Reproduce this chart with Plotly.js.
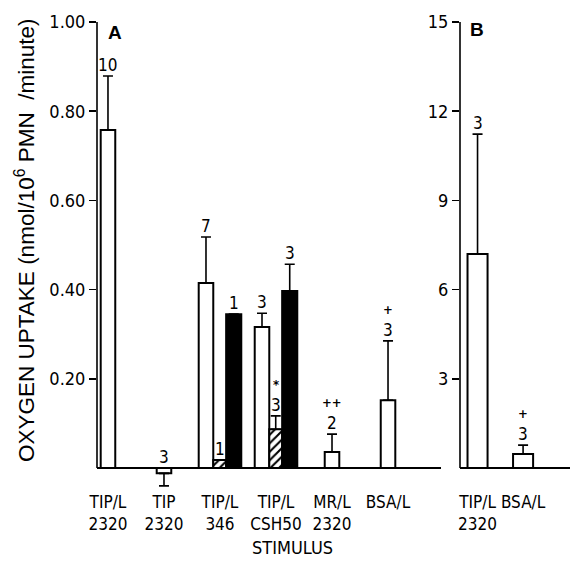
<!DOCTYPE html>
<html>
<head>
<meta charset="utf-8">
<script src="https://cdn.plot.ly/plotly-3.0.1.min.js"></script>
<style>html,body{margin:0;padding:0;background:#fff;}#chart{width:570px;height:565px;}</style>
</head>
<body>
<div id="chart"></div>
<script>
// ---------- data ----------
const categoriesA = ['TIP/L<br>2320', 'TIP<br>2320', 'TIP/L<br>346', 'TIP/L<br>CSH50', 'MR/L<br>2320', 'BSA/L'];
const whiteA      = [0.758, -0.012, 0.415, 0.316, 0.036, 0.152];
const whiteErrA   = [0.121, 0.028, 0.103, 0.031, 0.040, 0.133];
const whiteNA     = ['10', '3', '7', '3', '2', '3'];
const whiteSigA   = ['', '', '', '', '++', '+'];

const hatchedA    = [null, null, 0.018, 0.087, null, null];
const hatchedErrA = [null, null, null, 0.030, null, null];
const hatchedNA   = ['', '', '1', '3', '', ''];
const hatchedSigA = ['', '', '', '*', '', ''];

const blackA      = [null, null, 0.345, 0.397, null, null];
const blackErrA   = [null, null, null, 0.060, null, null];
const blackNA     = ['', '', '1', '3', '', ''];

const categoriesB = ['TIP/L<br>2320', 'BSA/L'];
const whiteB      = [7.2, 0.47];
const whiteErrB   = [4.03, 0.30];
const whiteNB     = ['3', '3'];
const whiteSigB   = ['', '+'];

const yTicksA = [0.2, 0.4, 0.6, 0.8, 1.0];
const yTickTextA = ['0.20', '0.40', '0.60', '0.80', '1.00'];
const yTicksB = [3, 6, 9, 12, 15];
const yTickTextB = ['3', '6', '9', '12', '15'];

// ---------- styling ----------
const W = 570, H = 565;
const FONT = '"DejaVu Sans Condensed", "Liberation Sans Narrow", "Liberation Sans", Arial, sans-serif';
const FONT_REG = '"Liberation Sans", Arial, sans-serif';
const wW = 0.26, wH = 0.23, wK = 0.27;           // bar widths (category units) panel A
const wB = 0.44;                                  // bar width panel B
const yA0 = -0.0493, yB0 = -0.74;                 // ranges extend a little below zero

function grouped(i) { return hatchedA[i] !== null || blackA[i] !== null; }
const offW = categoriesA.map((c, i) => grouped(i) ? -(wW + wH + wK) / 2 : -wW / 2);
const offH = offW.map(o => o + wW);
const offK = offH.map(o => o + wH);

function errPlus(v, e) { return v.map((val, i) => (val !== null && e[i] !== null && val >= 0) ? e[i] : null); }
function errMinus(v, e) { return v.map((val, i) => (val !== null && e[i] !== null && val < 0) ? e[i] : null); }

const outline = {color: '#000', width: 2};
const errStyle = (v, e) => ({type: 'data', symmetric: false, array: errPlus(v, e), arrayminus: errMinus(v, e),
  color: '#000', thickness: 1.6, width: 5, visible: true});

const traces = [
  {type: 'bar', x: categoriesA, y: whiteA, width: wW, offset: offW,
   marker: {color: '#fff', line: outline}, error_y: errStyle(whiteA, whiteErrA), xaxis: 'x', yaxis: 'y', hoverinfo: 'skip'},
  {type: 'bar', x: categoriesA, y: hatchedA, width: wH, offset: offH,
   marker: {color: '#fff', line: outline, pattern: {shape: '/', fgcolor: '#000', bgcolor: '#fff', size: 6, solidity: 0.35}},
   error_y: errStyle(hatchedA, hatchedErrA), xaxis: 'x', yaxis: 'y', hoverinfo: 'skip'},
  {type: 'bar', x: categoriesA, y: blackA, width: wK, offset: offK,
   marker: {color: '#000', line: outline}, error_y: errStyle(blackA, blackErrA), xaxis: 'x', yaxis: 'y', hoverinfo: 'skip'},
  {type: 'bar', x: categoriesB, y: whiteB, width: wB, offset: -wB / 2,
   marker: {color: '#fff', line: outline}, error_y: errStyle(whiteB, whiteErrB), xaxis: 'x2', yaxis: 'y2', hoverinfo: 'skip'}
];

// count / significance labels above bars
const annotations = [];
function label(xref, yref, idx, off, w, val, err, n, sig) {
  if (val === null || !n) return;
  const top = val < 0 ? 0 : val + (err || 0);
  const xc = idx + off + w / 2;
  annotations.push({xref: xref, yref: yref, x: xc, y: top, text: n, showarrow: false, borderpad: 0,
    xanchor: 'center', yanchor: 'bottom', yshift: 0, font: {family: FONT, size: 17, color: '#000'}});
  if (sig) {
    annotations.push({xref: xref, yref: yref, x: xc, y: top, text: '<b>' + sig + '</b>', showarrow: false, borderpad: 0,
      xanchor: 'center', yanchor: 'bottom', yshift: 23, font: {family: FONT, size: 13, color: '#000'}});
  }
}
categoriesA.forEach((c, i) => {
  label('x', 'y', i, offW[i], wW, whiteA[i], whiteErrA[i], whiteNA[i], whiteSigA[i]);
  label('x', 'y', i, offH[i], wH, hatchedA[i], hatchedErrA[i], hatchedNA[i], hatchedSigA[i]);
  label('x', 'y', i, offK[i], wK, blackA[i], blackErrA[i], blackNA[i], '');
});
categoriesB.forEach((c, i) => {
  label('x2', 'y2', i, -wB / 2, wB, whiteB[i], whiteErrB[i], whiteNB[i], whiteSigB[i]);
});

// panel letters, axis titles
const centered = {showarrow: false, xanchor: 'center', yanchor: 'middle', xref: 'paper', yref: 'paper'};
annotations.push(Object.assign({}, centered, {x: 115 / W, y: 1 - 32 / H, text: '<b>A</b>',
  font: {family: FONT_REG, size: 19, color: '#000'}}));
annotations.push(Object.assign({}, centered, {x: 477 / W, y: 1 - 29 / H, text: '<b>B</b>',
  font: {family: FONT_REG, size: 19, color: '#000'}}));
annotations.push(Object.assign({}, centered, {x: 292 / W, y: 1 - 547 / H, text: 'STIMULUS',
  font: {family: FONT, size: 18, color: '#000'}}));
annotations.push(Object.assign({}, centered, {x: 25 / W, y: 1 - 241 / H, text: 'OXYGEN UPTAKE (nmol/10<sup>6</sup> PMN  /minute)',
  textangle: -90, font: {family: FONT_REG, size: 22.5, color: '#000'}}));

const yDom = [75 / H, 543 / H];
const axisCommon = {showgrid: false, showline: false, fixedrange: true};
const layout = {
  width: W, height: H, margin: {l: 0, r: 0, t: 0, b: 0, pad: 0},
  paper_bgcolor: '#fff', plot_bgcolor: 'rgba(0,0,0,0)', showlegend: false, barmode: 'overlay',
  font: {family: FONT, color: '#000'},
  xaxis: Object.assign({}, axisCommon, {domain: [97 / W, 441 / W], anchor: 'y', type: 'category',
    range: [-0.196, 5.946], zeroline: false, ticks: '', tickfont: {family: FONT, size: 17, color: '#000'}, tickangle: 0}),
  yaxis: Object.assign({}, axisCommon, {domain: yDom, anchor: 'x', range: [yA0, 1], tickvals: yTicksA, ticktext: yTickTextA,
    ticks: 'outside', ticklen: 7, tickwidth: 1.5, tickcolor: '#000', tickfont: {family: FONT, size: 18, color: '#000'},
    zeroline: true, zerolinecolor: '#000', zerolinewidth: 1.6}),
  xaxis2: Object.assign({}, axisCommon, {domain: [460 / W, 1], anchor: 'y2', type: 'category',
    range: [-0.385, 2.03], zeroline: false, ticks: '', tickfont: {family: FONT, size: 17, color: '#000'}, tickangle: 0}),
  yaxis2: Object.assign({}, axisCommon, {domain: yDom, anchor: 'x2', range: [yB0, 15], tickvals: yTicksB, ticktext: yTickTextB,
    ticks: 'outside', ticklen: 7, tickwidth: 1.5, tickcolor: '#000', tickfont: {family: FONT, size: 18, color: '#000'},
    zeroline: true, zerolinecolor: '#000', zerolinewidth: 1.6}),
  shapes: [
    {type: 'line', xref: 'x domain', yref: 'y', x0: 0, x1: 0, y0: 0, y1: 1, line: {color: '#000', width: 1.6}},
    {type: 'line', xref: 'x2 domain', yref: 'y2', x0: 0, x1: 0, y0: 0, y1: 15, line: {color: '#000', width: 1.6}}
  ],
  annotations: annotations
};

Plotly.newPlot('chart', traces, layout, {staticPlot: true, displayModeBar: false});
</script>
</body>
</html>
